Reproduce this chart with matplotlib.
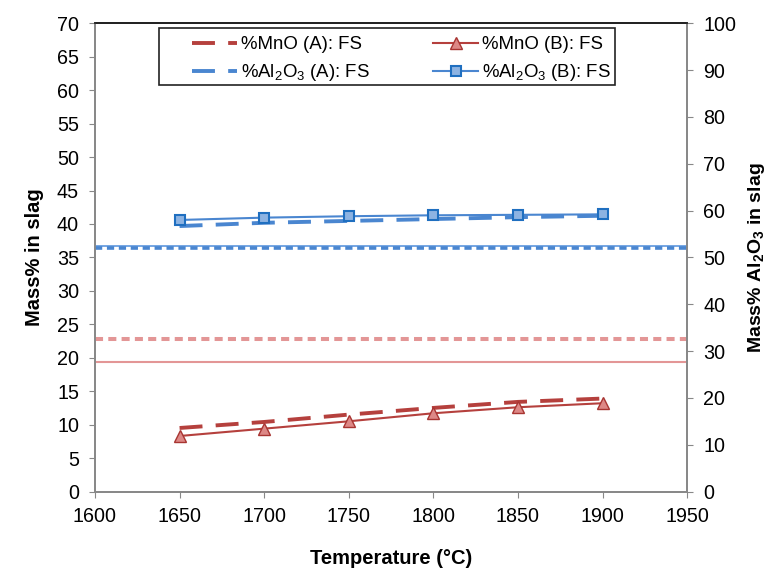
import matplotlib
matplotlib.use('Agg')
import matplotlib.pyplot as plt
from matplotlib.patches import Rectangle

plt.rcParams['font.family'] = ['Liberation Sans', 'DejaVu Sans']
plt.rcParams['mathtext.default'] = 'regular'

# data
temps = [1650, 1700, 1750, 1800, 1850, 1900]
mno_a = [9.5, 10.4, 11.5, 12.5, 13.4, 13.9]
mno_b = [8.3, 9.4, 10.5, 11.7, 12.6, 13.2]
al2o3_a = [56.7, 57.4, 57.8, 58.2, 58.6, 58.9]
al2o3_b = [58.0, 58.5, 58.8, 59.0, 59.1, 59.2]

# flat reference levels (left axis for MnO, right axis for Al2O3)
mno_level_solid = 19.4
mno_level_dash = 22.8
al_level_solid = 52.4
al_level_dash = 52.0
x_span = [1600, 1950]

red = '#B5403D'
red_light = '#E39696'
blue = '#4A86D0'

fig = plt.figure(figsize=(7.71, 5.72), dpi=100)
ax = fig.add_axes([0.1232, 0.1407, 0.768, 0.8185])
ax2 = ax.twinx()

ax.plot(x_span, [mno_level_solid] * 2, color=red_light, lw=1.5)
ax.plot(x_span, [mno_level_dash] * 2, color=red_light, lw=2.9, dashes=(2, 1.3))
l1, = ax.plot(temps, mno_a, color=red, lw=2.8, dashes=(5.9, 3.4),
              label='%MnO (A): FS')
l2, = ax.plot(temps, mno_b, color=red, lw=1.5, marker='^', ms=9,
              mfc='#DD8886', mec='#A83532', label='%MnO (B): FS')

ax2.plot(x_span, [al_level_solid] * 2, color='#6A9FE0', lw=1.3)
ax2.plot(x_span, [al_level_dash] * 2, color=blue, lw=2.6, dashes=(2, 1.3))
l3, = ax2.plot(temps, al2o3_a, color=blue, lw=2.8, dashes=(5.9, 3.4),
               label='%Al$_2$O$_3$ (A): FS')
l4, = ax2.plot(temps, al2o3_b, color=blue, lw=1.5, marker='s', ms=7.5,
               mfc='#8DB3E2', mec='#1F6FC0', mew=1.5,
               label='%Al$_2$O$_3$ (B): FS')

ax.set_xlim(1600, 1950)
ax.set_ylim(0, 70)
ax2.set_ylim(0, 100)
ax.set_xticks(range(1600, 1951, 50))
ax.set_yticks(range(0, 71, 5))
ax2.set_yticks(range(0, 101, 10))

for a in (ax, ax2):
    a.tick_params(direction='out', length=4.5, pad=7, color='#888888',
                  labelsize=14.2)
    for side in ('left', 'right', 'bottom'):
        a.spines[side].set_color('#888888')
        a.spines[side].set_linewidth(1.3)
    a.spines['top'].set_color('#222222')
    a.spines['top'].set_linewidth(1.3)

ax.set_xlabel('Temperature (°C)', fontsize=14.5, fontweight='bold', labelpad=16)
ax.set_ylabel('Mass% in slag', fontsize=14.5, fontweight='bold')
ax2.set_ylabel('Mass% Al$_2$O$_3$ in slag', fontsize=14, fontweight='bold')
ax.yaxis.set_label_coords(-0.086, 0.5)
ax2.yaxis.set_label_coords(1.100, 0.5)

# legend: rows MnO / Al2O3, columns (A) / (B)
leg = ax2.legend(handles=[l1, l3, l2, l4], ncol=2, loc='upper left',
                 bbox_to_anchor=(192 / 771, 1 - 36 / 572),
                 bbox_transform=fig.transFigure, fontsize=13.4,
                 frameon=False, borderpad=0, borderaxespad=0,
                 handlelength=2.43, handletextpad=0.2,
                 columnspacing=3.4, labelspacing=0.5)
fig.add_artist(Rectangle((159 / 771, 1 - 85 / 572), 456 / 771, 57 / 572,
                         transform=fig.transFigure, fill=True,
                         facecolor='white', edgecolor='#222222', lw=1.2,
                         zorder=2))
leg.set_zorder(3)
fig.add_artist(leg)

fig.savefig('out.png', dpi=100)
